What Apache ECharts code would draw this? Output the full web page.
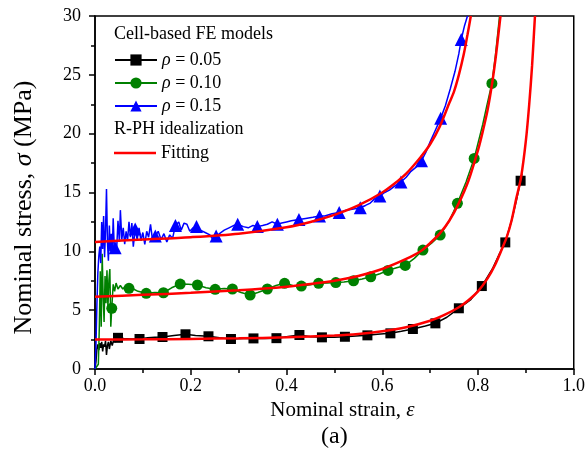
<!DOCTYPE html>
<html>
<head>
<meta charset="utf-8">
<script src="https://cdn.jsdelivr.net/npm/echarts@6/dist/echarts.min.js"></script>
<style>html,body{margin:0;padding:0;background:#fff;}#c{width:588px;height:459px;}</style>
</head>
<body>
<div id="c"></div>
<script>
// ---- data (x = nominal strain, y = nominal stress MPa) ----
const xTicks = [0, 0.2, 0.4, 0.6, 0.8, 1.0];
const yTicks = [0, 5, 10, 15, 20, 25, 30];

const raw005 = [[0,0],[0.002,0.6],[0.004,1.7],[0.006,2.1],[0.008,1.6],[0.010,2.2],[0.012,1.8],[0.014,2.3],[0.016,1.5],[0.018,2.1],[0.020,1.9],[0.022,2.4],[0.024,1.2],[0.026,2.0],[0.028,2.3],[0.030,1.7],[0.033,2.4],[0.036,2.0],[0.039,2.5],[0.043,2.3],
[0.06,2.6],[0.075,2.55],[0.11,2.65],[0.125,2.7],[0.165,2.85],[0.21,2.85],[0.26,2.65],[0.31,2.6],[0.355,2.6],[0.40,2.75],[0.45,2.75],[0.50,2.7],[0.545,2.8],[0.59,2.95],[0.64,3.2],[0.69,3.65],[0.735,4.4],[0.785,5.9],[0.83,8.5],[0.845,9.8],[0.87,12.6],[0.88,14.3],[0.892,16.6]];
const mark005 = [[0.048,2.65],[0.093,2.55],[0.141,2.72],[0.189,2.95],[0.237,2.78],[0.284,2.55],[0.331,2.6],[0.379,2.62],[0.427,2.89],[0.474,2.69],[0.522,2.74],[0.569,2.86],[0.617,3.03],[0.664,3.40],[0.711,3.88],[0.760,5.16],[0.808,7.05],[0.857,10.76],[0.889,16.0]];

const raw010 = [[0,0],[0.004,0.1],[0.007,0.4],[0.009,3.5],[0.011,8.3],[0.013,3.6],[0.015,9.8],[0.017,6.2],[0.019,4.0],[0.021,7.9],[0.023,5.6],[0.025,8.4],[0.027,5.2],[0.029,7.5],[0.031,8.5],[0.033,3.6],
[0.038,7.2],[0.041,6.6],[0.044,7.3],[0.048,6.8],[0.053,7.1],[0.058,6.8],[0.063,7.0],[0.08,6.8],[0.09,6.6],[0.125,6.5],[0.16,6.9],[0.195,7.2],[0.232,6.9],[0.27,6.85],[0.305,6.5],[0.34,6.5],[0.378,7.1],[0.413,7.1],[0.45,7.15],[0.485,7.3],[0.52,7.4],[0.558,7.65],[0.595,8.1],[0.63,8.6],[0.667,9.4],[0.703,10.7],[0.74,12.6],[0.775,15.9],[0.81,20.8],[0.818,22.3],[0.836,26.5],[0.842,28.8],[0.845,30]];
const mark010 = [[0.035,5.16],[0.071,6.86],[0.107,6.43],[0.143,6.48],[0.178,7.22],[0.214,7.14],[0.251,6.77],[0.287,6.80],[0.324,6.29],[0.360,6.80],[0.396,7.28],[0.431,7.05],[0.467,7.28],[0.503,7.35],[0.540,7.5],[0.576,7.84],[0.612,8.38],[0.648,8.8],[0.685,10.11],[0.721,11.38],[0.757,14.08],[0.792,17.9],[0.829,24.27]];

const raw015 = [[0,0],[0.002,2],[0.004,5.5],[0.006,8.2],[0.008,9.6],[0.010,10.4],[0.012,9.0],[0.014,12.5],[0.016,10.2],[0.018,13.0],[0.020,9.5],[0.022,11.8],[0.024,15.3],[0.026,10.8],[0.028,9.2],[0.030,12.2],[0.032,10.0],[0.034,11.5],[0.036,9.8],[0.038,12.8],[0.040,10.6],
[0.045,10.0],[0.048,12.6],[0.051,10.8],[0.053,13.5],[0.056,11.0],[0.059,12.0],[0.062,10.6],[0.065,11.7],[0.068,10.9],[0.071,12.5],[0.074,11.2],[0.077,12.4],[0.080,10.4],[0.088,11.0],[0.092,12.0],[0.096,10.9],[0.100,11.6],[0.104,10.6],[0.108,11.7],[0.112,11.2],[0.116,12.3],[0.12,11.0],[0.132,11.7],[0.138,11.0],[0.144,11.5],[0.15,10.8],[0.156,11.4],[0.162,11.1],[0.175,12.5],[0.18,11.8],[0.186,12.4],[0.192,12.3],[0.198,11.7],[0.205,12.0],[0.22,11.8],[0.23,11.6],[0.24,11.4],[0.248,10.9],[0.26,11.5],[0.27,11.8],[0.28,12.0],[0.29,12.2],[0.31,12.1],[0.32,12.0],[0.33,12.2],[0.35,12.2],[0.36,12.3],[0.37,12.5],[0.39,12.4],[0.40,12.5],[0.41,12.6],[0.44,12.8],[0.455,12.9],[0.48,13.0],[0.495,13.2],[0.525,13.5],[0.54,13.6],[0.565,13.9],[0.575,14.1],[0.585,14.5],[0.605,15.0],[0.615,15.2],[0.628,15.6],[0.65,16.3],[0.66,16.8],[0.672,17.2],[0.692,18.5],[0.70,19.3],[0.71,20.2],[0.732,22.4],[0.742,23.8],[0.752,25.3],[0.76,26.8],[0.772,29.2],[0.778,30]];
const mark015 = [[0.042,10.3],[0.084,11.9],[0.126,11.3],[0.168,12.2],[0.212,12.1],[0.253,11.3],[0.298,12.3],[0.339,12.1],[0.381,12.3],[0.426,12.7],[0.469,13.0],[0.510,13.3],[0.554,13.7],[0.595,14.7],[0.639,15.9],[0.682,17.7],[0.722,21.3],[0.765,28.0]];

const fit005 = [[0,2.5],[0.1,2.52],[0.2,2.56],[0.3,2.61],[0.4,2.69],[0.5,2.84],[0.55,2.97],[0.6,3.2],[0.65,3.55],[0.7,4.1],[0.73,4.6],[0.76,5.25],[0.78,5.85],[0.8,6.6],[0.82,7.7],[0.835,8.8],[0.85,10.2],[0.86,11.2],[0.87,12.6],[0.88,14.5],[0.89,16.3],[0.9,19.4],[0.907,22.5],[0.913,25.8],[0.917,28.6],[0.919,30]];
const fit010 = [[0,6.15],[0.1,6.3],[0.2,6.47],[0.3,6.7],[0.4,7.0],[0.45,7.22],[0.5,7.5],[0.55,7.9],[0.6,8.5],[0.65,9.35],[0.68,10.0],[0.7,10.7],[0.72,11.5],[0.74,12.6],[0.76,14.1],[0.78,16.0],[0.8,18.6],[0.81,20.2],[0.82,22.0],[0.83,24.4],[0.838,26.8],[0.845,29.3],[0.847,30]];
const fit015 = [[0,10.8],[0.1,11.0],[0.2,11.2],[0.3,11.5],[0.4,12.05],[0.45,12.5],[0.5,13.1],[0.55,13.9],[0.6,15.0],[0.63,15.9],[0.65,16.6],[0.68,18.0],[0.7,19.1],[0.72,20.6],[0.74,22.6],[0.75,23.6],[0.76,25.0],[0.77,26.7],[0.778,28.4],[0.785,30]];

const names = ['ρ = 0.05', 'ρ = 0.10', 'ρ = 0.15'];
// ---------------------------------------------------------

function merge(raw, marks) {
  const items = raw.map(p => ({ value: p, symbol: 'none' }))
    .concat(marks.map(p => ({ value: p })));
  items.sort((a, b) => a.value[0] - b.value[0]);
  return items;
}

const FONT = '"Liberation Serif","Times New Roman",serif';
const chart = echarts.init(document.getElementById('c'), null, { renderer: 'canvas' });

function feSeries(name, raw, marks, color, symbol, size) {
  return {
    name: name, type: 'line', data: merge(raw, marks),
    symbol: symbol, symbolSize: size, showSymbol: true, showAllSymbol: true,
    lineStyle: { color: color, width: 1.5 }, itemStyle: { color: color },
    animation: false, z: 2, clip: true
  };
}
function fitSeries(data) {
  return {
    name: 'Fitting', type: 'line', data: data, symbol: 'none', smooth: 0.3,
    lineStyle: { color: '#ff0000', width: 2.5 }, itemStyle: { color: '#ff0000' },
    animation: false, z: 3, clip: true
  };
}

const rich = { i: { fontStyle: 'italic', fontFamily: FONT, fontSize: 18, color: '#000' }, n: { fontFamily: FONT, fontSize: 18, color: '#000' } };

const option = {
  backgroundColor: '#fff',
  animation: false,
  grid: { left: 95, right: 11, top: 16, bottom: 90, show: true, borderColor: '#000', borderWidth: 1.5 },
  xAxis: {
    type: 'value', min: xTicks[0], max: xTicks[xTicks.length - 1], interval: 0.2,
    name: '{n|Nominal strain, }{i|ε}', nameLocation: 'middle', nameGap: 24,
    nameTextStyle: { padding: [0, 0, 0, 16], rich: { n: { fontFamily: FONT, fontSize: 21, color: '#000' }, i: { fontFamily: FONT, fontSize: 21, fontStyle: 'italic', color: '#000' } } },
    axisLine: { lineStyle: { color: '#000', width: 1.5 } },
    axisTick: { show: true, inside: false, length: 6, lineStyle: { color: '#000', width: 1.5 } },
    minorTick: { show: true, splitNumber: 2, length: 4, lineStyle: { color: '#000', width: 1.5 } },
    splitLine: { show: false },
    axisLabel: { fontFamily: FONT, fontSize: 18, color: '#000', margin: 8, formatter: v => v.toFixed(1) }
  },
  yAxis: {
    type: 'value', min: yTicks[0], max: yTicks[yTicks.length - 1], interval: 5,
    name: '{n|Nominal stress, }{i|σ}{n| (MPa)}', nameLocation: 'middle', nameGap: 58,
    nameTextStyle: { padding: [0, 30, 0, 0], rich: { n: { fontFamily: FONT, fontSize: 26, color: '#000' }, i: { fontFamily: FONT, fontSize: 26, fontStyle: 'italic', color: '#000' } } },
    axisLine: { lineStyle: { color: '#000', width: 1.5 } },
    axisTick: { show: true, inside: false, length: 6, lineStyle: { color: '#000', width: 1.5 } },
    minorTick: { show: true, splitNumber: 2, length: 4, lineStyle: { color: '#000', width: 1.5 } },
    splitLine: { show: false },
    axisLabel: { fontFamily: FONT, fontSize: 18, color: '#000', margin: 14 }
  },
  legend: [{
    orient: 'vertical', left: 114, top: 51, padding: 0, itemWidth: 42, itemHeight: 14, itemGap: 5,
    data: names,
    textStyle: { fontFamily: FONT, fontSize: 18, color: '#000', rich: rich },
    formatter: function (n) { return '{i|ρ}{n|' + n.slice(1) + '}'; }
  }, {
    orient: 'vertical', left: 114, top: 144, padding: 0, itemWidth: 42, itemHeight: 2.5,
    data: [{ name: 'Fitting', icon: 'rect' }],
    textStyle: { fontFamily: FONT, fontSize: 18, color: '#000' }
  }],
  graphic: [
    { type: 'text', left: 114, top: 25, style: { text: 'Cell-based FE models', font: '18px ' + FONT, fill: '#000' } },
    { type: 'text', left: 114, top: 120, style: { text: 'R-PH idealization', font: '18px ' + FONT, fill: '#000' } },
    { type: 'text', left: 321, top: 425, style: { text: '(a)', font: '24px ' + FONT, fill: '#000' } }
  ],
  series: [
    feSeries(names[0], raw005, mark005, '#000000', 'rect', 10),
    feSeries(names[1], raw010, mark010, '#008000', 'circle', 11),
    feSeries(names[2], raw015, mark015, '#0000ff', 'triangle', 13),
    fitSeries(fit005), fitSeries(fit010), fitSeries(fit015)
  ]
};
chart.setOption(option);
</script>
</body>
</html>
